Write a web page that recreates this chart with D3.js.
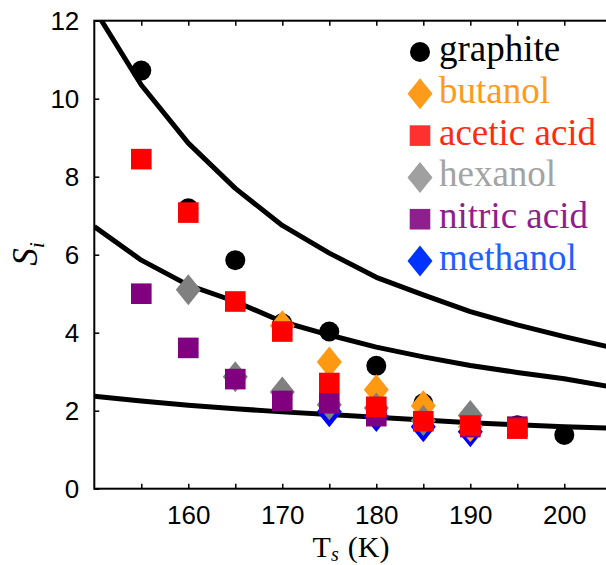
<!DOCTYPE html>
<html>
<head>
<meta charset="utf-8">
<script src="https://cdn.jsdelivr.net/npm/d3@7"></script>
<style>
  html, body { margin: 0; padding: 0; background: #fff; }
  svg { display: block; }
</style>
</head>
<body>
<svg id="chart" width="606" height="565"></svg>
<script>
// ---- data ----
const xTicks = [155, 160, 165, 170, 175, 180, 185, 190, 195, 200];
const xTickLabels = [160, 170, 180, 190, 200];
const yTicks = [0, 2, 4, 6, 8, 10, 12];

const graphiteT = [155, 160, 165, 170, 175, 180, 185, 195, 200];
const graphiteS = [10.72, 7.19, 5.86, 4.24, 4.03, 3.15, 2.19, 1.63, 1.38];

const methanolT = [175, 180, 185, 190];
const methanolS = [1.97, 1.85, 1.59, 1.46];

const butanolT = [170, 175, 180, 185, 190];
const butanolS = [4.18, 3.25, 2.54, 2.13, 1.59];

const hexanolT = [160, 165, 170, 175, 180, 185, 190];
const hexanolS = [5.1, 2.87, 2.48, 2.15, 2.07, 1.75, 1.88];

const nitricT = [155, 160, 165, 170, 175, 180, 190, 195];
const nitricS = [5.0, 3.61, 2.81, 2.25, 2.19, 1.86, 1.58, 1.59];

const aceticT = [155, 160, 165, 170, 175, 180, 185, 190, 195];
const aceticS = [8.45, 7.08, 4.8, 4.03, 2.71, 2.10, 1.73, 1.62, 1.54];

const curveT = [150, 155, 160, 165, 170, 175, 180, 185, 190, 195, 200, 205];
const curveTop = [12.3, 10.35, 8.86, 7.7, 6.75, 6.04, 5.42, 4.97, 4.54, 4.2, 3.9, 3.62];
const curveMid = [6.72, 5.86, 5.22, 4.8, 4.28, 3.94, 3.63, 3.38, 3.16, 2.98, 2.82, 2.61];
const curveBot = [2.37, 2.25, 2.14, 2.05, 1.97, 1.9, 1.83, 1.76, 1.69, 1.64, 1.59, 1.55];

const legendNames = ["graphite", "butanol", "acetic acid", "hexanol", "nitric acid", "methanol"];
const legendShapes = ["circle", "diamond", "square", "diamond", "square", "diamond"];
const legendMarkerColors = ["#000000", "#ff9a1a", "#ff3030", "#a0a0a0", "#8e1f8e", "#0033ff"];
const legendTextColors = ["#000000", "#ff9a1a", "#ff2a12", "#a3a3a3", "#8e1f8e", "#2060ff"];

// ---- layout ----
const svg = d3.select("#chart");
const pLeft = 94.3, pRight = 611.3, pTop = 20.7, pBottom = 488.7;
const x = d3.scaleLinear().domain([150, 205]).range([pLeft, pRight]);
const y = d3.scaleLinear().domain([0, 12]).range([pBottom, pTop]);

svg.append("defs").append("clipPath").attr("id", "plotclip")
  .append("rect").attr("x", pLeft).attr("y", pTop)
  .attr("width", pRight - pLeft).attr("height", pBottom - pTop);

// ---- curves ----
const line = d3.line().x(d => x(d[0])).y(d => y(d[1]));
const curvesG = svg.append("g").attr("clip-path", "url(#plotclip)");
[curveTop, curveMid, curveBot].forEach(c => {
  curvesG.append("path")
    .datum(curveT.map((t, i) => [t, c[i]]))
    .attr("d", line)
    .attr("fill", "none")
    .attr("stroke", "#000")
    .attr("stroke-width", 5)
    .attr("stroke-linejoin", "round");
});

// ---- markers ----
function drawMarker(g, shape, cx, cy, color) {
  if (shape === "circle") {
    g.append("circle").attr("cx", cx).attr("cy", cy).attr("r", 10).attr("fill", color);
  } else if (shape === "square") {
    g.append("rect").attr("x", cx - 10.3).attr("y", cy - 10.3)
      .attr("width", 20.6).attr("height", 20.6).attr("fill", color);
  } else {
    const hw = 12.5, hh = 15.5;
    g.append("path")
      .attr("d", `M${cx},${cy - hh}L${cx + hw},${cy}L${cx},${cy + hh}L${cx - hw},${cy}Z`)
      .attr("fill", color);
  }
}

const series = [
  { T: graphiteT, S: graphiteS, shape: "circle", color: "#000000" },
  { T: methanolT, S: methanolS, shape: "diamond", color: "#0000ff" },
  { T: butanolT, S: butanolS, shape: "diamond", color: "#ff9912" },
  { T: hexanolT, S: hexanolS, shape: "diamond", color: "#808080" },
  { T: nitricT, S: nitricS, shape: "square", color: "#800080" },
  { T: aceticT, S: aceticS, shape: "square", color: "#ff0000" }
];
const marksG = svg.append("g");
series.forEach(s => {
  s.T.forEach((t, i) => drawMarker(marksG, s.shape, x(t), y(s.S[i]), s.color));
});

// ---- axes ----
const tickFont = "'Liberation Sans', Arial, Helvetica, sans-serif";
const axG = svg.append("g");
axG.append("rect").attr("x", pLeft).attr("y", pTop)
  .attr("width", pRight - pLeft).attr("height", pBottom - pTop)
  .attr("fill", "none").attr("stroke", "#000").attr("stroke-width", 2);

const fmtX = d => (xTickLabels.includes(d) ? String(d) : "");
const xb = axG.append("g").attr("transform", `translate(0,${pBottom})`)
  .call(d3.axisBottom(x).tickValues(xTicks).tickSize(-5).tickPadding(17).tickFormat(fmtX));
const xt = axG.append("g").attr("transform", `translate(0,${pTop})`)
  .call(d3.axisTop(x).tickValues(xTicks).tickSize(-5).tickFormat(""));
const yl = axG.append("g").attr("transform", `translate(${pLeft},0)`)
  .call(d3.axisLeft(y).tickValues(yTicks).tickSize(-5).tickPadding(15).tickFormat(d3.format("d")));
const yr = axG.append("g").attr("transform", `translate(${pRight},0)`)
  .call(d3.axisRight(y).tickValues(yTicks).tickSize(-5).tickFormat(""));
[xb, xt, yl, yr].forEach(a => {
  a.select(".domain").remove();
  a.selectAll(".tick line").attr("stroke", "#000").attr("stroke-width", 1.5);
  a.selectAll("text").attr("font-family", tickFont).attr("font-size", 26).attr("fill", "#000");
});
xb.selectAll("text").attr("dy", "0.71em");

// ---- axis labels ----
const serif = "'Liberation Serif', 'Times New Roman', serif";
const xl = svg.append("text")
  .attr("x", 351).attr("y", 557)
  .attr("text-anchor", "middle")
  .attr("font-family", serif).attr("font-size", 30).attr("fill", "#000");
xl.append("tspan").text("T");
xl.append("tspan").attr("font-style", "italic").attr("font-size", 20).attr("dy", 4).text("s");
xl.append("tspan").attr("dy", -4).attr("dx", 9).text("(K)");

const ylab = svg.append("text")
  .attr("transform", "translate(37,254) rotate(-90)")
  .attr("text-anchor", "middle")
  .attr("font-family", serif).attr("font-size", 35).attr("font-style", "italic").attr("fill", "#000");
ylab.append("tspan").text("S");
ylab.append("tspan").attr("font-size", 22).attr("dy", 7).text("i");

// ---- legend ----
const legG = svg.append("g");
const legMarkerX = 420, legTextX = 439, legTop = 52, legStep = 41.8;
legendNames.forEach((name, i) => {
  const cy = legTop + i * legStep;
  drawMarker(legG, legendShapes[i], legMarkerX, cy, legendMarkerColors[i]);
  legG.append("text")
    .attr("x", legTextX).attr("y", cy + 9)
    .attr("font-family", serif).attr("font-size", 37)
    .attr("fill", legendTextColors[i])
    .text(name);
});
</script>
</body>
</html>
